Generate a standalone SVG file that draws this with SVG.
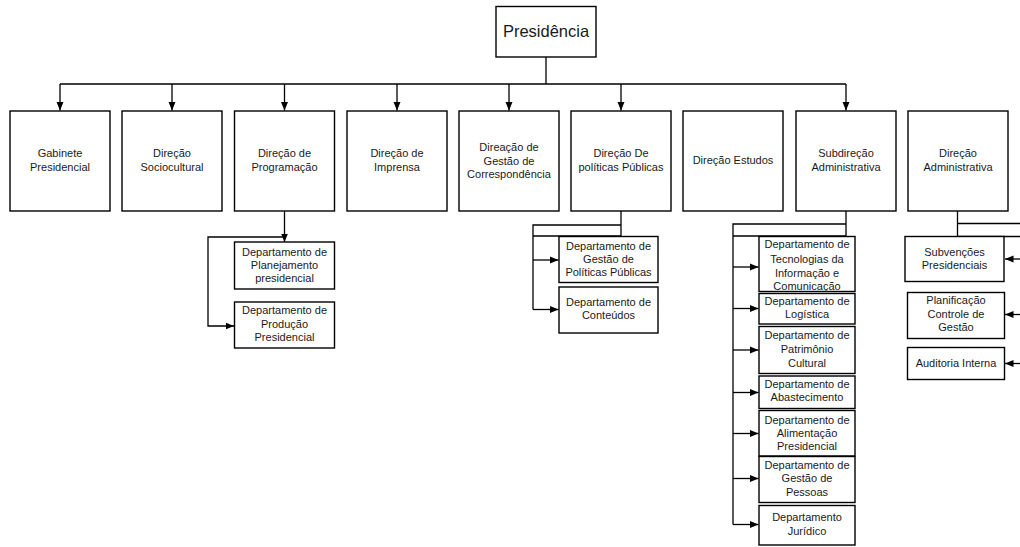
<svg xmlns="http://www.w3.org/2000/svg" width="1020" height="547" viewBox="0 0 1020 547">
<style>
.box{fill:#fff;stroke:#000;stroke-width:1.4}
.c{fill:none;stroke:#000;stroke-width:1.3}
text{font-family:"Liberation Sans",Arial,sans-serif;font-size:11px;fill:#1a1a1a;text-anchor:middle}
.big{font-size:16.5px}
</style>
<defs>
<marker id="ar" markerUnits="userSpaceOnUse" markerWidth="9" markerHeight="8" refX="8.5" refY="4" orient="auto">
<path d="M0,0.5 L8.5,4 L0,7.5 Z" fill="#000"/>
</marker>
</defs>
<rect width="1020" height="547" fill="#fff"/>
<g id="connectors">
<path class="c" d="M546,57 V84 M60,84 H846"/>
<path class="c" d="M60,84 V110.5" marker-end="url(#ar)"/>
<path class="c" d="M172,84 V110.5" marker-end="url(#ar)"/>
<path class="c" d="M284.5,84 V110.5" marker-end="url(#ar)"/>
<path class="c" d="M397,84 V110.5" marker-end="url(#ar)"/>
<path class="c" d="M509,84 V110.5" marker-end="url(#ar)"/>
<path class="c" d="M621,84 V110.5" marker-end="url(#ar)"/>
<path class="c" d="M846,84 V110.5" marker-end="url(#ar)"/>
<path class="c" d="M284.5,211 V242" marker-end="url(#ar)"/>
<path class="c" d="M284.5,237 H208 V326 H234" marker-end="url(#ar)"/>
<path class="c" d="M621,211 V236 M621,225 H533 V309.5 M533,236 H621"/>
<path class="c" d="M533,260 H558.5" marker-end="url(#ar)"/>
<path class="c" d="M533,309.5 H558.5" marker-end="url(#ar)"/>
<path class="c" d="M846,211 V236 M846,224 H733 V524.5 M733,236 H846"/>
<path class="c" d="M733,267 H758.5" marker-end="url(#ar)"/>
<path class="c" d="M733,308.5 H758.5" marker-end="url(#ar)"/>
<path class="c" d="M733,350 H758.5" marker-end="url(#ar)"/>
<path class="c" d="M733,392.5 H758.5" marker-end="url(#ar)"/>
<path class="c" d="M733,433.5 H758.5" marker-end="url(#ar)"/>
<path class="c" d="M733,478.5 H758.5" marker-end="url(#ar)"/>
<path class="c" d="M733,524.5 H758.5" marker-end="url(#ar)"/>
<path class="c" d="M957.5,211 V236.5 M957.5,223.5 H1021 M957.5,236.5 H1021"/>
<path class="c" d="M1021,259 H1005" marker-end="url(#ar)"/>
<path class="c" d="M1021,314.5 H1005" marker-end="url(#ar)"/>
<path class="c" d="M1021,363.5 H1005" marker-end="url(#ar)"/>
</g>
<g id="presidencia"><rect class="box" x="496" y="6.5" width="100" height="50.5"/><text class="big" x="546" y="37">Presidência</text></g>
<g id="gabinete"><rect class="box" x="10" y="111" width="100" height="100"/><text x="60" y="157">Gabinete</text><text x="60" y="171">Presidencial</text></g>
<g id="sociocultural"><rect class="box" x="122" y="111" width="100" height="100"/><text x="172" y="157">Direção</text><text x="172" y="171">Sociocultural</text></g>
<g id="programacao"><rect class="box" x="234.5" y="111" width="100" height="100"/><text x="284.5" y="157">Direção de</text><text x="284.5" y="171">Programação</text></g>
<g id="imprensa"><rect class="box" x="347" y="111" width="100" height="100"/><text x="397" y="157">Direção de</text><text x="397" y="171">Imprensa</text></g>
<g id="correspondencia"><rect class="box" x="459" y="111" width="100" height="100"/><text x="509" y="150.5">Direação de</text><text x="509" y="164.5">Gestão de</text><text x="509" y="178">Correspondência</text></g>
<g id="politicas"><rect class="box" x="571" y="111" width="100" height="100"/><text x="621" y="157">Direção De</text><text x="621" y="171">políticas Públicas</text></g>
<g id="estudos"><rect class="box" x="683" y="111" width="100" height="100"/><text x="733" y="164">Direção Estudos</text></g>
<g id="subdirecao"><rect class="box" x="796" y="111" width="100" height="100"/><text x="846" y="157">Subdireção</text><text x="846" y="171">Administrativa</text></g>
<g id="direcao-adm"><rect class="box" x="908" y="111" width="100" height="100"/><text x="958" y="157">Direção</text><text x="958" y="171">Administrativa</text></g>
<g id="planejamento"><rect class="box" x="234.5" y="242" width="100" height="47"/><text x="284.5" y="255.5">Departamento de</text><text x="284.5" y="268.5">Planejamento</text><text x="284.5" y="281.5">presidencial</text></g>
<g id="producao"><rect class="box" x="234.5" y="302" width="100" height="46"/><text x="284.5" y="314">Departamento de</text><text x="284.5" y="327.5">Produção</text><text x="284.5" y="340.5">Presidencial</text></g>
<g id="gestao-politicas"><rect class="box" x="559" y="236.5" width="99" height="46"/><text x="608.5" y="249.5">Departamento de</text><text x="608.5" y="263">Gestão de</text><text x="608.5" y="275.5">Políticas Públicas</text></g>
<g id="conteudos"><rect class="box" x="559" y="287" width="99" height="46"/><text x="608.5" y="305.5">Departamento de</text><text x="608.5" y="319">Conteúdos</text></g>
<g id="tecnologias"><rect class="box" x="759" y="236.5" width="96" height="55"/><text x="807" y="248">Departamento de</text><text x="807" y="262.5">Tecnologias da</text><text x="807" y="276.5">Informação e</text><text x="807" y="290">Comunicação</text></g>
<g id="logistica"><rect class="box" x="759" y="293.5" width="96" height="30.5"/><text x="807" y="304.5">Departamento de</text><text x="807" y="318">Logística</text></g>
<g id="patrimonio"><rect class="box" x="759" y="326.5" width="96" height="47"/><text x="807" y="339">Departamento de</text><text x="807" y="353">Patrimônio</text><text x="807" y="366.5">Cultural</text></g>
<g id="abastecimento"><rect class="box" x="759" y="376" width="96" height="32.5"/><text x="807" y="388">Departamento de</text><text x="807" y="401">Abastecimento</text></g>
<g id="alimentacao"><rect class="box" x="759" y="410.5" width="96" height="45.5"/><text x="807" y="424">Departamento de</text><text x="807" y="436.5">Alimentação</text><text x="807" y="450">Presidencial</text></g>
<g id="pessoas"><rect class="box" x="759" y="456.5" width="96" height="46"/><text x="807" y="469">Departamento de</text><text x="807" y="482">Gestão de</text><text x="807" y="495.5">Pessoas</text></g>
<g id="juridico"><rect class="box" x="759" y="505.5" width="96" height="39.5"/><text x="807" y="520.5">Departamento</text><text x="807" y="534.5">Jurídico</text></g>
<g id="subvencoes"><rect class="box" x="905" y="236.5" width="99" height="45"/><text x="954.5" y="256">Subvenções</text><text x="954.5" y="269">Presidenciais</text></g>
<g id="planificacao"><rect class="box" x="907.5" y="292.5" width="97" height="46"/><text x="956" y="304">Planificação</text><text x="956" y="318">Controle de</text><text x="956" y="331">Gestão</text></g>
<g id="auditoria"><rect class="box" x="907.5" y="347.5" width="97" height="32"/><text x="956" y="367">Auditoria Interna</text></g>
</svg>
